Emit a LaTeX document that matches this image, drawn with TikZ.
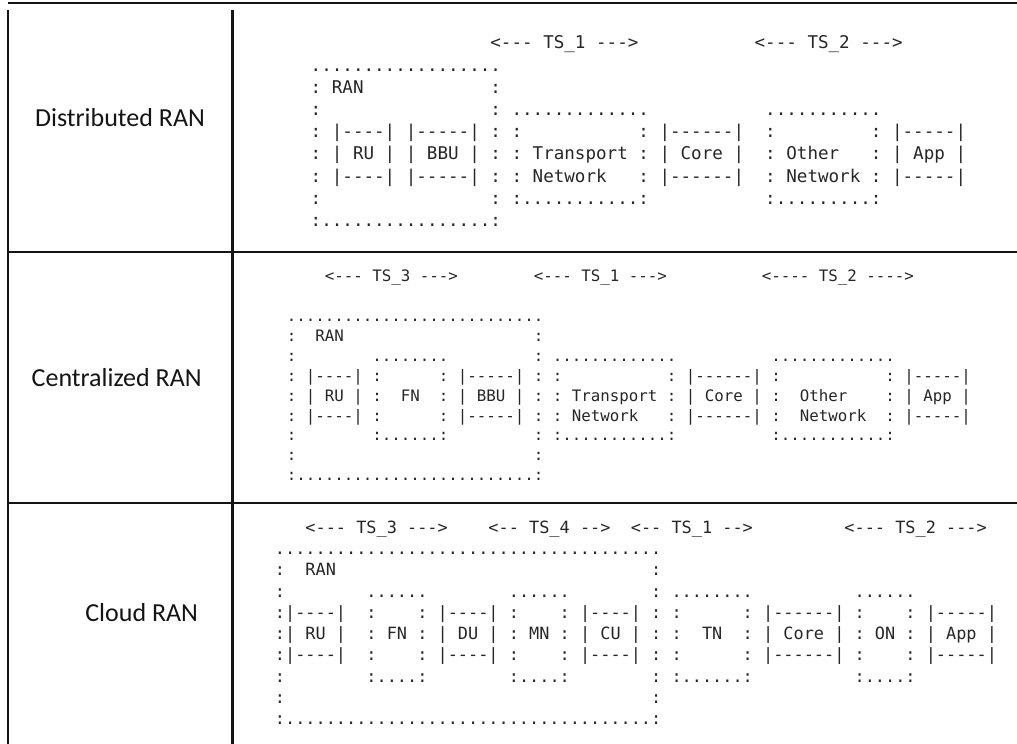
\documentclass[tikz,border=0pt]{standalone}
\usepackage{fontspec}
\setmonofont{DejaVu Sans Mono}
\newfontfamily\lblfont{Carlito}
\definecolor{artc}{HTML}{262626}
\definecolor{tblc}{HTML}{141414}
\newcounter{tk}
\def\xo{0}\def\pch{10}\def\ya{0}\def\ls{20}\def\fsz{16}
\newcommand\artfont{\ttfamily\fontsize{\fsz}{\fsz}\selectfont}
\newcommand\tk[3]{\stepcounter{tk}\node[art,name=tk\arabic{tk}] at ({\xo+(#1-0.5)*\pch},{\ya+#2*\ls}) {#3};}
\tikzset{
  art/.style={anchor=base west, inner sep=0pt, outer sep=0pt, font=\artfont, text=artc},
  tbl/.style={draw=tblc, line width=2.2pt},
  lbl/.style={anchor=base, inner sep=0pt, font=\lblfont\fontsize{26}{30}\selectfont, text=tblc}
}
\begin{document}
\begin{tikzpicture}[x=1pt,y=-1pt]
\useasboundingbox (0,0) rectangle (1017,744);
% table rules
\draw[tbl] (8.3,3.3) -- (1017,3.3);
\draw[tbl] (8.3,251.7) -- (1017,251.7);
\draw[tbl] (8.3,503.3) -- (1017,503.3);
\draw[tbl] (8.3,10) -- (8.3,744);
\draw[tbl] (232.5,10) -- (232.5,744);
% row labels
\node[lbl] (l1) at (120,126) {Distributed RAN};
\node[lbl] (l2) at (116.7,386.7) {Centralized RAN};
\node[lbl] (l3) at (141.7,621.7) {Cloud RAN};
% ---------------- Distributed RAN
\def\xo{316}\def\pch{10.57}\def\ya{48.8}\def\ls{22.2}\def\fsz{17.56}
\tk{17}{0}{<---~TS\_1~--->}\tk{42}{0}{<---~TS\_2~--->}
\tk{0}{1}{..................}
\tk{0}{2}{:}\tk{2}{2}{RAN}\tk{17}{2}{:}
\tk{0}{3}{:}\tk{17}{3}{:}\tk{19}{3}{.............}\tk{43}{3}{...........}
\tk{0}{4}{:}\tk{2}{4}{|----|}\tk{9}{4}{|-----|}\tk{17}{4}{:}\tk{19}{4}{:}\tk{31}{4}{:}\tk{33}{4}{|------|}\tk{43}{4}{:}\tk{53}{4}{:}\tk{55}{4}{|-----|}
\tk{0}{5}{:}\tk{2}{5}{|~RU~|}\tk{9}{5}{|~BBU~|}\tk{17}{5}{:}\tk{19}{5}{:}\tk{21}{5}{Transport}\tk{31}{5}{:}\tk{33}{5}{|~Core~|}\tk{43}{5}{:}\tk{45}{5}{Other}\tk{53}{5}{:}\tk{55}{5}{|~App~|}
\tk{0}{6}{:}\tk{2}{6}{|----|}\tk{9}{6}{|-----|}\tk{17}{6}{:}\tk{19}{6}{:}\tk{21}{6}{Network}\tk{31}{6}{:}\tk{33}{6}{|------|}\tk{43}{6}{:}\tk{45}{6}{Network}\tk{53}{6}{:}\tk{55}{6}{|-----|}
\tk{0}{7}{:}\tk{17}{7}{:}\tk{19}{7}{:...........:}\tk{43}{7}{:.........:}
\tk{0}{8}{:................:}
% ---------------- Centralized RAN
\def\xo{291.7}\def\pch{9.5}\def\ya{281.7}\def\ls{19.9}\def\fsz{15.78}
\tk{4}{0}{<---~TS\_3~--->}\tk{26}{0}{<---~TS\_1~--->}\tk{50}{0}{<----~TS\_2~---->}
\tk{0}{2}{...........................}
\tk{0}{3}{:}\tk{3}{3}{RAN}\tk{26}{3}{:}
\tk{0}{4}{:}\tk{9}{4}{........}\tk{26}{4}{:}\tk{28}{4}{.............}\tk{51}{4}{.............}
\tk{0}{5}{:}\tk{2}{5}{|----|}\tk{9}{5}{:}\tk{16}{5}{:}\tk{18}{5}{|-----|}\tk{26}{5}{:}\tk{28}{5}{:}\tk{40}{5}{:}\tk{42}{5}{|------|}\tk{51}{5}{:}\tk{63}{5}{:}\tk{65}{5}{|-----|}
\tk{0}{6}{:}\tk{2}{6}{|~RU~|}\tk{9}{6}{:}\tk{12}{6}{FN}\tk{16}{6}{:}\tk{18}{6}{|~BBU~|}\tk{26}{6}{:}\tk{28}{6}{:}\tk{30}{6}{Transport}\tk{40}{6}{:}\tk{42}{6}{|~Core~|}\tk{51}{6}{:}\tk{54}{6}{Other}\tk{63}{6}{:}\tk{65}{6}{|~App~|}
\tk{0}{7}{:}\tk{2}{7}{|----|}\tk{9}{7}{:}\tk{16}{7}{:}\tk{18}{7}{|-----|}\tk{26}{7}{:}\tk{28}{7}{:}\tk{30}{7}{Network}\tk{40}{7}{:}\tk{42}{7}{|------|}\tk{51}{7}{:}\tk{54}{7}{Network}\tk{63}{7}{:}\tk{65}{7}{|-----|}
\tk{0}{8}{:}\tk{9}{8}{:......:}\tk{26}{8}{:}\tk{28}{8}{:...........:}\tk{51}{8}{:...........:}
\tk{0}{9}{:}\tk{26}{9}{:}
\tk{0}{10}{:.........................:}
% ---------------- Cloud RAN
\def\xo{280}\def\pch{10.17}\def\ya{533.25}\def\ls{21.25}\def\fsz{16.89}
\tk{3}{0}{<---~TS\_3~--->}\tk{21}{0}{<--~TS\_4~-->}\tk{35}{0}{<--~TS\_1~-->}\tk{56}{0}{<---~TS\_2~--->}
\tk{0}{1}{......................................}
\tk{0}{2}{:}\tk{3}{2}{RAN}\tk{37}{2}{:}
\tk{0}{3}{:}\tk{9}{3}{......}\tk{23}{3}{......}\tk{37}{3}{:}\tk{39}{3}{........}\tk{57}{3}{......}
\tk{0}{4}{:|----|}\tk{9}{4}{:}\tk{14}{4}{:}\tk{16}{4}{|----|}\tk{23}{4}{:}\tk{28}{4}{:}\tk{30}{4}{|----|}\tk{37}{4}{:}\tk{39}{4}{:}\tk{46}{4}{:}\tk{48}{4}{|------|}\tk{57}{4}{:}\tk{62}{4}{:}\tk{64}{4}{|-----|}
\tk{0}{5}{:|~RU~|}\tk{9}{5}{:~FN~:}\tk{16}{5}{|~DU~|}\tk{23}{5}{:~MN~:}\tk{30}{5}{|~CU~|}\tk{37}{5}{:}\tk{39}{5}{:}\tk{42}{5}{TN}\tk{46}{5}{:}\tk{48}{5}{|~Core~|}\tk{57}{5}{:~ON~:}\tk{64}{5}{|~App~|}
\tk{0}{6}{:|----|}\tk{9}{6}{:}\tk{14}{6}{:}\tk{16}{6}{|----|}\tk{23}{6}{:}\tk{28}{6}{:}\tk{30}{6}{|----|}\tk{37}{6}{:}\tk{39}{6}{:}\tk{46}{6}{:}\tk{48}{6}{|------|}\tk{57}{6}{:}\tk{62}{6}{:}\tk{64}{6}{|-----|}
\tk{0}{7}{:}\tk{9}{7}{:....:}\tk{23}{7}{:....:}\tk{37}{7}{:}\tk{39}{7}{:......:}\tk{57}{7}{:....:}
\tk{0}{8}{:}\tk{37}{8}{:}
\tk{0}{9}{:....................................:}
\end{tikzpicture}
\end{document}
